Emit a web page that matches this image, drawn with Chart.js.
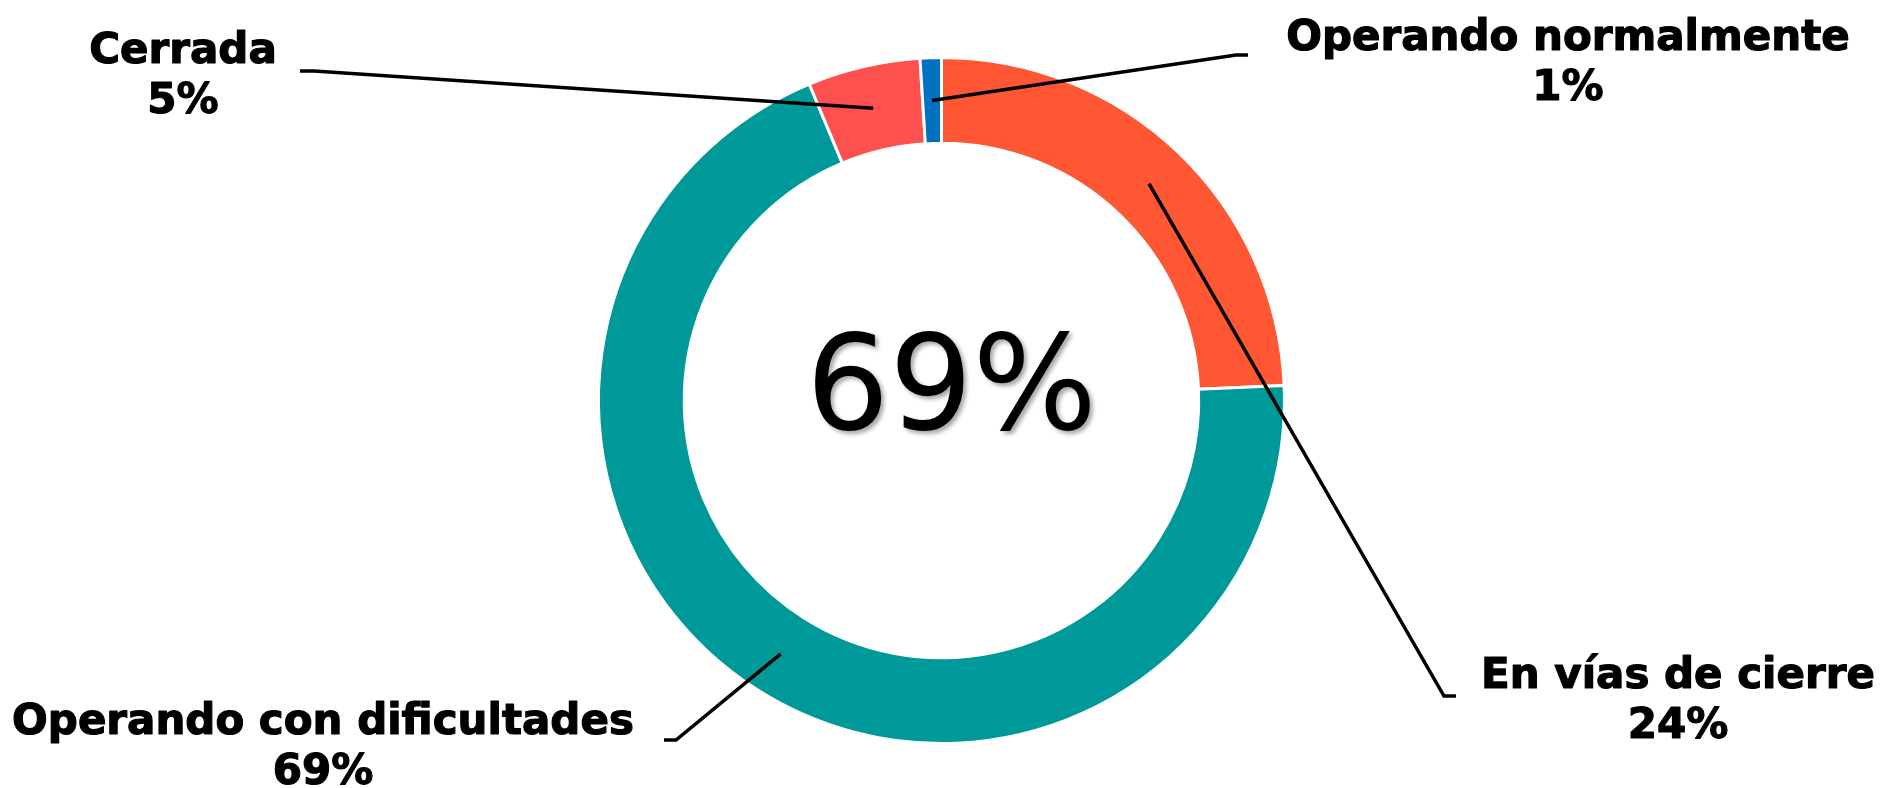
<!DOCTYPE html>
<html><head><meta charset="utf-8">
<script src="https://cdn.jsdelivr.net/npm/chart.js@4"></script>
<style>html,body{margin:0;padding:0;background:#fff;overflow:hidden}#wrap{width:1883px;height:788px;position:relative}</style>
</head><body><div id="wrap"><canvas id="c"></canvas></div>
<script>
// ---- data ----
const categories = ['En vías de cierre', 'Operando con dificultades', 'Cerrada', 'Operando normalmente'];
const values = [24.3, 69.4, 5.3, 1.0];
const percentLabels = ['24%', '69%', '5%', '1%'];
const centerLabel = '69%';

// ---- styles / layout ----
const colors = ['#FF5733', '#009999', '#FF5050', '#0070C0'];
// callout placement: text centre x, first baseline y, elbow x/y, end of horizontal tick x
const calloutLayout = [
  { tx: 1678, ty: 688, ex: 1444, ey: 696, hx: 1456 },
  { tx: 323,  ty: 734, ex: 676,  ey: 740, hx: 664 },
  { tx: 183,  ty: 63,  ex: 314,  ey: 71,  hx: 300 },
  { tx: 1568, ty: 50,  ex: 1236, ey: 55,  hx: 1248 }
];

const calloutPlugin = {
  id: 'callouts',
  afterDraw(chart) {
    const ctx = chart.ctx;
    const meta = chart.getDatasetMeta(0);
    // centre label
    const cx = (chart.chartArea.left + chart.chartArea.right) / 2;
    const cy = (chart.chartArea.top + chart.chartArea.bottom) / 2;
    ctx.save();
    ctx.font = '131px "DejaVu Sans"';
    ctx.textAlign = 'center';
    ctx.textBaseline = 'alphabetic';
    ctx.shadowColor = 'rgba(0,0,0,0.35)';
    ctx.shadowOffsetX = 3;
    ctx.shadowOffsetY = 3;
    ctx.shadowBlur = 4;
    ctx.fillStyle = '#000';
    ctx.fillText(centerLabel, cx + 10, cy + 28);
    ctx.restore();

    meta.data.forEach((arc, i) => {
      const L = calloutLayout[i];
      const p = arc.getCenterPoint();
      ctx.save();
      ctx.strokeStyle = '#000';
      ctx.lineWidth = 3.5;
      ctx.beginPath();
      ctx.moveTo(p.x, p.y);
      ctx.lineTo(L.ex, L.ey);
      ctx.lineTo(L.hx, L.ey);
      ctx.stroke();
      ctx.fillStyle = '#000';
      ctx.font = 'bold 42px "DejaVu Sans"';
      ctx.textAlign = 'center';
      ctx.textBaseline = 'alphabetic';
      ctx.lineWidth = 1.2;
      ctx.lineJoin = 'round';
      ctx.fillText(categories[i], L.tx, L.ty);
      ctx.strokeText(categories[i], L.tx, L.ty);
      ctx.fillText(percentLabels[i], L.tx, L.ty + 50);
      ctx.strokeText(percentLabels[i], L.tx, L.ty + 50);
      ctx.restore();
    });
  }
};

new Chart(document.getElementById('c'), {
  type: 'doughnut',
  data: {
    labels: categories,
    datasets: [{
      data: values,
      backgroundColor: colors,
      borderColor: '#ffffff',
      borderWidth: 3
    }]
  },
  options: {
    responsive: true,
    maintainAspectRatio: false,
    animation: false,
    cutout: '75%',
    layout: { padding: { top: 56, bottom: 43, left: 0, right: 0 } },
    plugins: { legend: { display: false }, tooltip: { enabled: false } }
  },
  plugins: [calloutPlugin]
});
</script>
</body></html>
